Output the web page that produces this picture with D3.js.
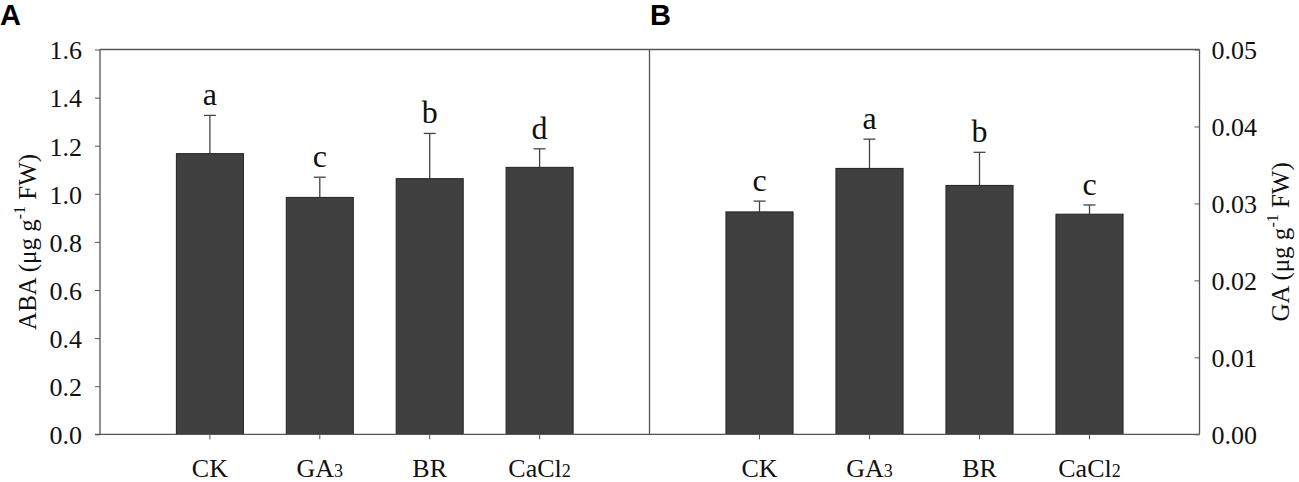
<!DOCTYPE html>
<html>
<head>
<meta charset="utf-8">
<script src="https://cdn.jsdelivr.net/npm/d3@7"></script>
<style>
  body { margin: 0; background: #fff; }
  text { font-family: "Liberation Serif", "Times New Roman", serif; fill: #111; }
  text.panel { font-family: "Liberation Sans", Arial, sans-serif; font-weight: bold; fill: #000; }
</style>
</head>
<body>
<svg id="chart" width="1299" height="482"></svg>
<script>
// treatments, shared by both panels
var treatments = [ "CK", "GA3", "BR", "CaCl2" ];

// panel A: ABA content
var abaMean = [ 1.167, 0.985, 1.063, 1.110 ];
var abaErr = [ 0.159, 0.084, 0.188, 0.077 ];
var abaLetters = [ "a", "c", "b", "d" ];
var abaTicks = [ 0, 0.2, 0.4, 0.6, 0.8, 1.0, 1.2, 1.4, 1.6 ];

// panel B: GA content
var gaMean = [ 0.0289, 0.03455, 0.03234, 0.0286 ];
var gaErr = [ 0.0014, 0.0038, 0.0043, 0.0012 ];
var gaLetters = [ "c", "a", "b", "c" ];
var gaTicks = [ 0, 0.01, 0.02, 0.03, 0.04, 0.05 ];

var svg = d3.select( "#chart" );
var top0 = 49.5, bottom0 = 434.3;
var axisColor = "#555";

// x positions: four points spread over five slots in each panel
var xA = d3.scalePoint().domain( treatments ).range( [ 100, 649.5 ] ).padding( 1 );
var xB = d3.scalePoint().domain( treatments ).range( [ 649.5, 1199.5 ] ).padding( 1 );
var yA = d3.scaleLinear().domain( [ 0, 1.6 ] ).range( [ bottom0, top0 ] );
var yB = d3.scaleLinear().domain( [ 0, 0.05 ] ).range( [ bottom0, top0 ] );

// draws bars, error bars and significance letters of one panel
function panel( sel, x, y, means, errs, letters ) {
    var bw = x.step() * 0.61;
    var rows = treatments.map( (t,i) => ({ t: t, m: means[i], e: errs[i], l: letters[i] }) );
    var g = sel.append( "g" ).selectAll( "g" ).data( rows ).enter().append( "g" );

    g.append( "line" ) // error bar stem
        .attr( "x1", d => x(d.t) ).attr( "x2", d => x(d.t) )
        .attr( "y1", d => y(d.m) ).attr( "y2", d => y(d.m + d.e) )
        .attr( "stroke", "#444" ).attr( "stroke-width", 1.3 );
    g.append( "line" ) // error bar cap
        .attr( "x1", d => x(d.t) - 6 ).attr( "x2", d => x(d.t) + 6 )
        .attr( "y1", d => y(d.m + d.e) ).attr( "y2", d => y(d.m + d.e) )
        .attr( "stroke", "#444" ).attr( "stroke-width", 1.3 );
    g.append( "rect" )
        .attr( "x", d => x(d.t) - bw/2 ).attr( "width", bw )
        .attr( "y", d => y(d.m) ).attr( "height", d => y(0) - y(d.m) )
        .attr( "fill", "#404040" ).attr( "stroke", "#222" ).attr( "stroke-width", 1 );
    g.append( "text" )
        .attr( "x", d => x(d.t) ).attr( "y", d => y(d.m + d.e) - 10 )
        .attr( "text-anchor", "middle" ).attr( "font-size", 32 )
        .text( d => d.l );
}

panel( svg, xA, yA, abaMean, abaErr, abaLetters );
panel( svg, xB, yB, gaMean, gaErr, gaLetters );

// left axis
svg.append( "g" ).attr( "transform", "translate(100,0)" )
    .call( d3.axisLeft( yA ).tickValues( abaTicks ).tickFormat( d3.format( ".1f" ) )
        .tickSize( 5 ).tickPadding( 13 ) )
    .call( a => a.select( ".domain" ).remove() );

// right axis, ticks pointing inward
svg.append( "g" ).attr( "transform", "translate(1199.5,0)" )
    .call( d3.axisRight( yB ).tickValues( gaTicks ).tickFormat( d3.format( ".2f" ) )
        .tickSizeInner( -5 ).tickSizeOuter( 0 ).tickPadding( 12 ) )
    .call( a => a.select( ".domain" ).remove() );

svg.selectAll( ".tick text" ).attr( "font-size", 26 ).attr( "dy", "0.36em" );
svg.selectAll( ".tick line" ).attr( "stroke", axisColor );

// x ticks under both panels
[ xA, xB ].forEach( x => {
    svg.append( "g" ).selectAll( "line" ).data( treatments ).enter().append( "line" )
        .attr( "x1", d => x(d) ).attr( "x2", d => x(d) )
        .attr( "y1", bottom0 ).attr( "y2", bottom0 + 5 )
        .attr( "stroke", axisColor );

    // category labels with small digits (GA3, CaCl2)
    var lab = svg.append( "g" ).selectAll( "text" ).data( treatments ).enter().append( "text" )
        .attr( "x", d => x(d) ).attr( "y", 477 )
        .attr( "text-anchor", "middle" ).attr( "font-size", 26 );
    lab.append( "tspan" ).text( d => d.replace( /\d+$/, "" ) );
    lab.append( "tspan" ).attr( "font-size", 18 ).text( d => (d.match( /\d+$/ ) || [ "" ])[0] );
});

// frame: left, divider, right, top, bottom
var frame = [
    [ 100, top0, 100, bottom0 ],
    [ 649.5, top0, 649.5, bottom0 ],
    [ 1199.5, top0, 1199.5, bottom0 ],
    [ 100, top0, 1199.5, top0 ],
    [ 95, bottom0, 1199.5, bottom0 ]
];
svg.append( "g" ).selectAll( "line" ).data( frame ).enter().append( "line" )
    .attr( "x1", d => d[0] ).attr( "y1", d => d[1] )
    .attr( "x2", d => d[2] ).attr( "y2", d => d[3] )
    .attr( "stroke", axisColor ).attr( "stroke-width", 1.3 );

// y titles with superscript -1
function yTitle( sel, x, name ) {
    var t = sel.append( "text" )
        .attr( "transform", "translate(" + x + "," + (top0 + bottom0)/2 + ") rotate(-90)" )
        .attr( "text-anchor", "middle" ).attr( "font-size", 25 );
    t.append( "tspan" ).text( name + " (μg g" );
    t.append( "tspan" ).attr( "font-size", 16 ).attr( "dy", -11 ).text( "-1" );
    t.append( "tspan" ).attr( "dy", 11 ).text( " FW)" );
}
yTitle( svg, 36, "ABA" );
yTitle( svg, 1289, "GA" );

// panel letters
svg.append( "text" ).classed( "panel", true ).attr( "x", 0 ).attr( "y", 25 )
    .attr( "font-size", 29 ).text( "A" );
svg.append( "text" ).classed( "panel", true ).attr( "x", 650 ).attr( "y", 25 )
    .attr( "font-size", 29 ).text( "B" );
</script>
</body>
</html>
